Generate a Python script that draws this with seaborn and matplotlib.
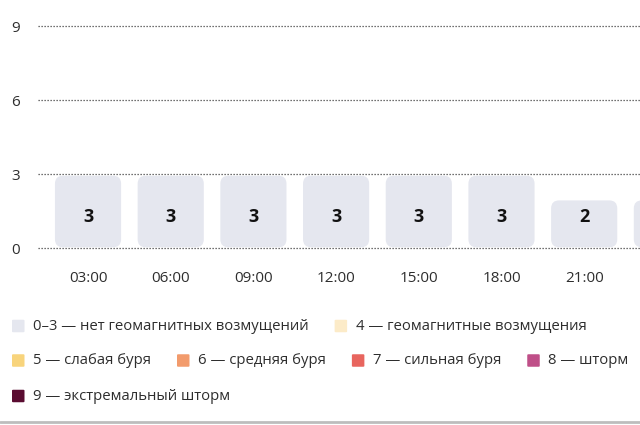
import matplotlib
matplotlib.use("Agg")
import matplotlib.pyplot as plt
import seaborn as sns
import pandas as pd
from matplotlib.patches import FancyBboxPatch
from matplotlib.lines import Line2D

# ---- data ----
times = ["03:00", "06:00", "09:00", "12:00", "15:00", "18:00", "21:00", "00:00"]
kp_values = [3, 3, 3, 3, 3, 3, 2, 2]
y_ticks = [0, 3, 6, 9]
legend_labels = [
    "0–3 — нет геомагнитных возмущений",
    "4 — геомагнитные возмущения",
    "5 — слабая буря",
    "6 — средняя буря",
    "7 — сильная буря",
    "8 — шторм",
    "9 — экстремальный шторм",
]
legend_colors = ["#E5E7EF", "#FCEBC8", "#F8D47C", "#F29B6C", "#E8655E", "#BF4F88", "#5A0C31"]

sns.set_theme(style="white")
plt.rcParams['font.family'] = ['Open Sans', 'DejaVu Sans']

W, H = 640, 425
fig = plt.figure(figsize=(W / 100, H / 100), dpi=100)

xlim = (-0.605, 6.675)
ylim = (-0.2, 9.2)
px_per_y = (248 - 26) / 9.0
ax_bottom_px = 248 + (0 - ylim[0]) * px_per_y
ax_top_px = 26 - (ylim[1] - 9) * px_per_y
ax = fig.add_axes([38 / W, (H - ax_bottom_px) / H, 602 / W, (ax_bottom_px - ax_top_px) / H])

df = pd.DataFrame({"time": times, "kp": kp_values})
sns.barplot(data=df, x="time", y="kp", color=legend_colors[0], saturation=1,
            width=0.8, ax=ax, order=times)
ax.set_xlim(*xlim)
ax.set_ylim(*ylim)

# rounded bars
px_per_x = 602 / (xlim[1] - xlim[0])
rx = 8 / px_per_x
aspect = px_per_x / px_per_y
for p in list(ax.patches):
    x, y = p.get_x(), p.get_y()
    w, h = p.get_width(), p.get_height()
    p.remove()
    ax.add_patch(FancyBboxPatch((x, y + 0.03), w, h - 0.1,
                                boxstyle=f"round,pad=0,rounding_size={rx}",
                                mutation_aspect=aspect,
                                facecolor=legend_colors[0], edgecolor="none", zorder=2))

for i, v in enumerate(kp_values):
    if i > xlim[1] - 0.2:
        continue  # label lies beyond the visible area
    ax.text(i, 1.25, str(v), ha="center", va="center", fontsize=13,
            fontweight="bold", color="#111111", zorder=3)

ax.set_yticks(y_ticks)
ax.set_xlabel("")
ax.set_ylabel("")
for s in ax.spines.values():
    s.set_visible(False)
ax.grid(False)
for yt in y_ticks:
    ax.axhline(yt, color="#444444", lw=0.9, ls=(0, (1, 1.4)), zorder=1)
ax.tick_params(axis="y", length=0, pad=13, labelsize=11, labelcolor="#2e2e2e")
ax.tick_params(axis="x", length=0, pad=13, labelsize=11, labelcolor="#2e2e2e")

# ---- legend (flow layout) ----
renderer = fig.canvas.get_renderer()
row_y = [326, 360.5, 396]
sq = 12.5
x0 = 12
max_x = 634
row = 0
x = x0
for lab, col in zip(legend_labels, legend_colors):
    t = fig.text(0, 0, lab, fontsize=10.7, color="#2e2e2e", va="center", ha="left")
    tw = t.get_window_extent(renderer).width
    item_w = sq + 8.5 + tw
    if x + item_w > max_x and x > x0:
        row += 1
        x = x0
    yc = row_y[row]
    fig.add_artist(FancyBboxPatch(((x) / W, (H - yc - sq / 2) / H), sq / W, sq / H,
                                  boxstyle="round,pad=0,rounding_size=0.002",
                                  transform=fig.transFigure, facecolor=col,
                                  edgecolor="none"))
    t.set_position(((x + sq + 8.5) / W, (H - yc) / H))
    x += item_w + 26

fig.add_artist(Line2D([0, 1], [(H - 422) / H] * 2, color="#BDBDBD", lw=2,
                      transform=fig.transFigure))

fig.savefig("out.png", dpi=100)
